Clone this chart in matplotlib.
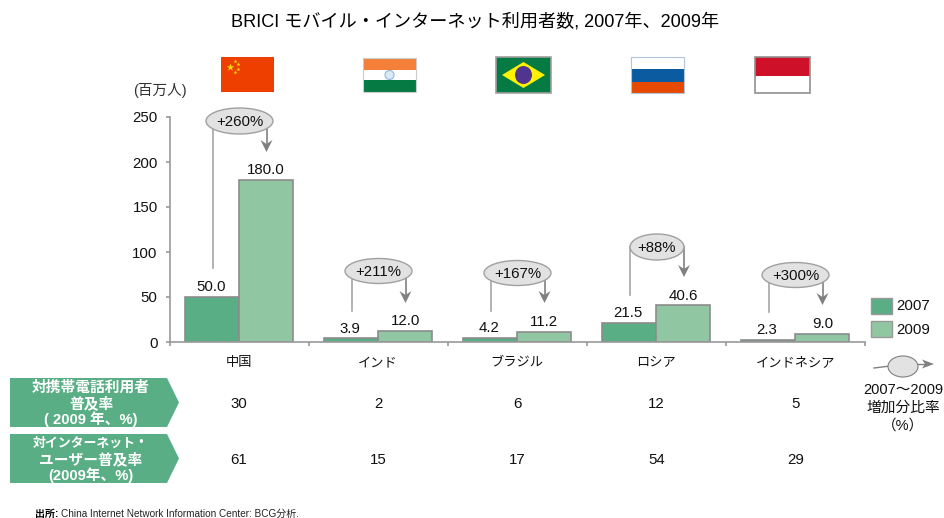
import matplotlib
matplotlib.use('Agg')
import matplotlib.pyplot as plt
from matplotlib.patches import Ellipse, Polygon, Rectangle
import numpy as np

plt.rcParams['font.family'] = ['Liberation Sans', 'Noto Sans CJK JP']

# data
countries = ['中国', 'インド', 'ブラジル', 'ロシア', 'インドネシア']
users_2007 = [50.0, 3.9, 4.2, 21.5, 2.3]
users_2009 = [180.0, 12.0, 11.2, 40.6, 9.0]
growth = ['+260%', '+211%', '+167%', '+88%', '+300%']
mobile_rate = [30, 2, 6, 12, 5]
internet_rate = [61, 15, 17, 54, 29]
y_ticks = [0, 50, 100, 150, 200, 250]
years = ['2007', '2009']

# colours
c_2007 = '#5AAE85'
c_2009 = '#91C6A2'
c_edge = '#8C8C8C'
c_arrow = '#808080'
c_oval = '#E2E2E2'
c_text = '#111111'
fs = 10.8

W, H = 944, 518
fig = plt.figure(figsize=(W/100, H/100), dpi=100)

# main chart
ax = fig.add_axes([169.5/W, (H-342)/H, (865-169.5)/W, 225/H])
x = np.arange(len(countries))
bw = 0.388
ax.bar(x-bw/2, users_2007, bw, color=c_2007, edgecolor=c_edge, linewidth=1.2)
ax.bar(x+bw/2, users_2009, bw, color=c_2009, edgecolor=c_edge, linewidth=1.2)
ax.set_xlim(-0.5, 4.5)
ax.set_ylim(0, 250)
ax.set_yticks(y_ticks)
ax.set_xticks(np.arange(len(countries)+1)-0.5)
ax.set_xticklabels([])
ax.tick_params(axis='both', color='#999999', length=3, width=1.2)
ax.tick_params(axis='y', labelsize=fs, pad=5.5, labelcolor=c_text)
for s in ['top', 'right']:
    ax.spines[s].set_visible(False)
for s in ['left', 'bottom']:
    ax.spines[s].set_color('#999999')
    ax.spines[s].set_linewidth(1.2)
for i in range(len(countries)):
    ax.annotate('%.1f' % users_2007[i], (x[i]-bw/2, users_2007[i]), xytext=(-1, 2),
                textcoords='offset points', ha='center', va='bottom', fontsize=fs, color=c_text)
    ax.annotate('%.1f' % users_2009[i], (x[i]+bw/2, users_2009[i]), xytext=(0, 2),
                textcoords='offset points', ha='center', va='bottom', fontsize=fs, color=c_text)

# overlay in pixel coordinates for everything around the chart
ov = fig.add_axes([0, 0, 1, 1], zorder=5)
ov.set_xlim(0, W)
ov.set_ylim(H, 0)
ov.axis('off')
ov.patch.set_alpha(0)


def notched_head(px, py, dx, dy, length=12, half=6, notch=4):
    # arrow head with a swept back tail, tip at px,py, pointing along dx,dy
    nx, ny = -dy, dx
    pts = [(px, py),
           (px-dx*length+nx*half, py-dy*length+ny*half),
           (px-dx*(length-notch), py-dy*(length-notch)),
           (px-dx*length-nx*half, py-dy*length-ny*half)]
    ov.add_patch(Polygon(pts, color=c_arrow, lw=0, zorder=1))


ov.text(475, 22, 'BRICI モバイル・インターネット利用者数, 2007年、2009年',
        ha='center', va='center', fontsize=13.05, color='black')
ov.text(160, 91, '(百万人)', ha='center', va='center', fontsize=10.5, color='#333333')

# growth callouts: ellipse centre x, y, width, height, left line end, arrow tip
callouts = [
    (239.5, 121, 67, 26, 268, 152),
    (378.5, 271, 67, 25, 311, 303),
    (517.5, 273, 67, 25, 311, 303),
    (657, 247, 54, 26, 295, 277),
    (795.5, 275, 67, 25, 312, 305),
]
for (cx, cy, w, h, y_end, y_tip), g in zip(callouts, growth):
    inset = 27
    ov.plot([cx-inset, cx-inset], [cy, y_end], color='#A6A6A6', lw=1.2, zorder=1)
    ov.plot([cx+inset, cx+inset], [cy, y_tip-6], color=c_arrow, lw=1.2, zorder=1)
    notched_head(cx+inset, y_tip, 0, 1)
    ov.add_patch(Ellipse((cx, cy), w, h, facecolor=c_oval, edgecolor='#A0A0A0', lw=1, zorder=2))
    ov.text(cx, cy+0.5, g, ha='center', va='center', fontsize=fs, color=c_text, zorder=3)

# flags
# china
ov.add_patch(Rectangle((221, 57), 53, 35, color='#EE3E00', lw=0))
ov.scatter([230], [67], marker='*', s=32, color='#FFE000', lw=0)
ov.scatter([235, 238, 238, 235], [61, 64, 69, 72], marker='*', s=9, color='#FFE000', lw=0)
# india
ov.add_patch(Rectangle((363, 58), 53, 12, color='#F47F38', lw=0))
ov.add_patch(Rectangle((363, 70), 53, 10, color='white', lw=0))
ov.add_patch(Rectangle((363, 80), 53, 12, color='#067A43', lw=0))
ov.add_patch(Rectangle((363, 58), 53, 34, fill=False, edgecolor='#CCCCCC', lw=0.8))
ov.add_patch(Ellipse((389.5, 75), 9, 9, facecolor='#DCEAF7', edgecolor='#8DB9E0', lw=0.8))
# brazil
ov.add_patch(Rectangle((496, 56.5), 55, 36.5, facecolor='#067A43', edgecolor='#A0A0A0', lw=1.2))
ov.add_patch(Polygon([(502, 75), (523.5, 62), (545, 75), (523.5, 88)], color='#FFF200', lw=0))
ov.add_patch(Ellipse((523.5, 75), 17, 18, color='#50358F', lw=0))
# russia
ov.add_patch(Rectangle((631, 57), 53, 12, color='white', lw=0))
ov.add_patch(Rectangle((631, 69), 53, 12.5, color='#0B5BA0', lw=0))
ov.add_patch(Rectangle((631, 81.5), 53, 11.5, color='#E64A00', lw=0))
ov.add_patch(Rectangle((631, 57), 53, 36, fill=False, edgecolor='#B0C4DE', lw=0.8))
# indonesia
ov.add_patch(Rectangle((755, 56.5), 55, 19, color='#CE1029', lw=0))
ov.add_patch(Rectangle((755, 56.5), 55, 36.5, fill=False, edgecolor='#909090', lw=1.2))

# legend
for yy, col, lab in zip([298, 321], [c_2007, c_2009], years):
    ov.add_patch(Rectangle((870.5, yy), 21, 16, facecolor=col, edgecolor='#999999', lw=1))
    ov.text(896, yy+8.5, lab, ha='left', va='center', fontsize=fs, color=c_text)

# key for the growth ovals
ov.plot([874, 890], [368, 366], color=c_arrow, lw=1)
ov.plot([915, 926], [364, 364], color=c_arrow, lw=1)
notched_head(934, 364, 1, 0, length=12, half=4.5, notch=3)
ov.add_patch(Ellipse((903, 366.5), 30, 21, facecolor=c_oval, edgecolor='#808080', lw=0.8, zorder=3))
ov.text(903, 390, '2007～2009', ha='center', va='center', fontsize=10.5, color=c_text)
ov.text(903, 408, '増加分比率', ha='center', va='center', fontsize=10.6, color=c_text)
ov.text(903, 426, '（%）', ha='center', va='center', fontsize=10.5, color=c_text)

# country names and table rows
for i, name in enumerate(countries):
    cx = ax.transData.transform((x[i], 0))[0]
    ov.text(cx, 363, name, ha='center', va='center', fontsize=9.5, color=c_text)
    ov.text(cx, 403.5, str(mobile_rate[i]), ha='center', va='center', fontsize=fs, color=c_text)
    ov.text(cx, 459.5, str(internet_rate[i]), ha='center', va='center', fontsize=fs, color=c_text)

row_labels = [['対携帯電話利用者', '普及率', '( 2009 年、%)'],
              ['対インターネット・', 'ユーザー普及率', '(2009年、%)']]
row_sizes = [[10.6, 10.6, 10.6], [9.3, 10.6, 10.6]]
for top, lines, sizes in zip([378, 434], row_labels, row_sizes):
    bot = top+49
    ov.add_patch(Polygon([(10, top), (167, top), (179, (top+bot)/2), (167, bot), (10, bot)],
                         color=c_2007, lw=0))
    for k, (t, sz) in enumerate(zip(lines, sizes)):
        ov.text(91, top+10+k*15.5, t, ha='center', va='center', fontsize=sz, color='white', weight='bold')

# source
ov.text(35, 514, '出所:', ha='left', va='center', fontsize=7.2, weight='bold', color='black')
ov.text(61, 514, 'China Internet Network Information Center: BCG分析.', ha='left', va='center',
        fontsize=7.2, color='#222222')

fig.savefig('out.png', dpi=100)
